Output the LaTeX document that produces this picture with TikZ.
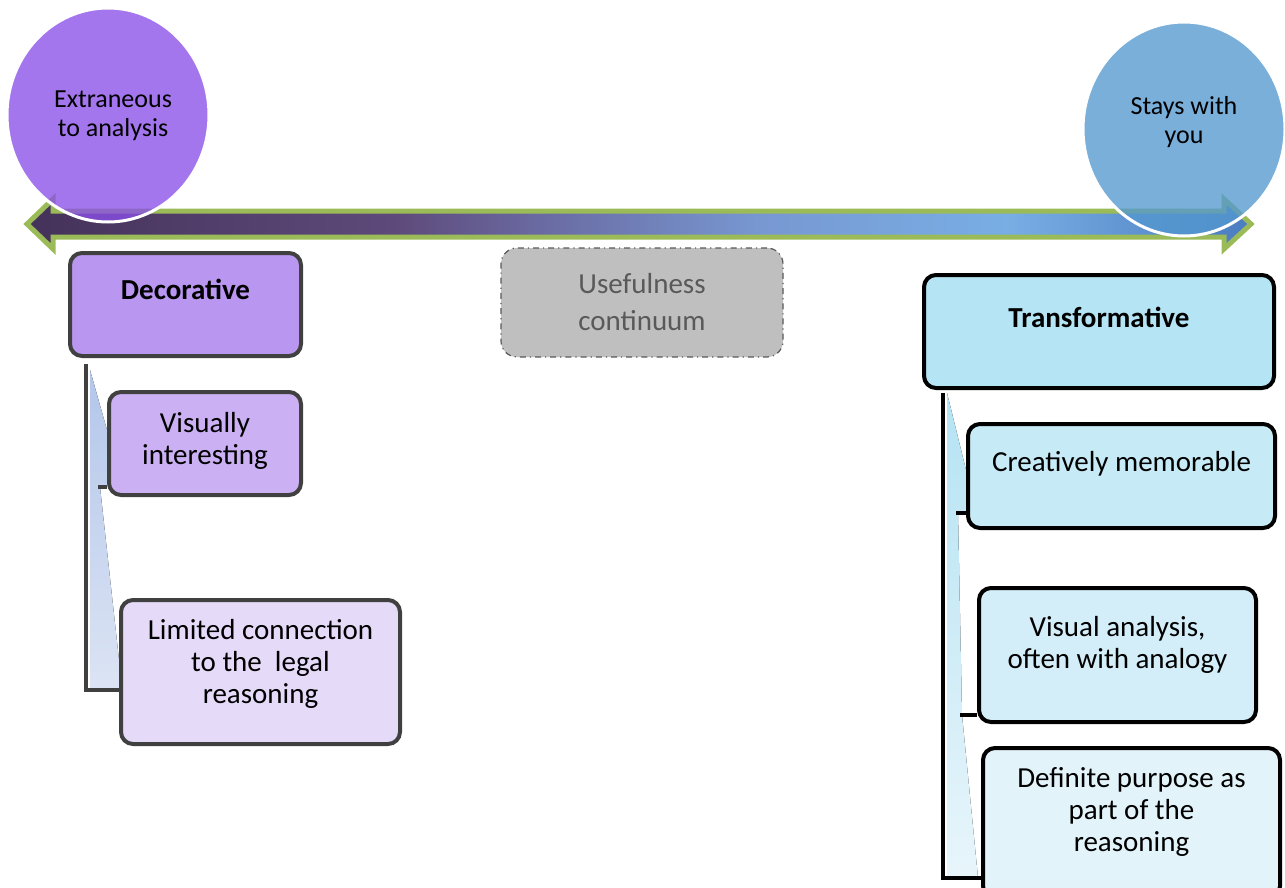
\documentclass[tikz,border=0pt]{standalone}
\usepackage{fontspec}
\setmainfont{Carlito}
\usetikzlibrary{shapes.geometric}

\definecolor{extfill}{HTML}{8A4FE8}
\definecolor{stayfill}{HTML}{5498D0}
\definecolor{arrowline}{HTML}{9BBB59}
\definecolor{arrowA}{HTML}{45325A}
\definecolor{arrowB}{HTML}{5E4A7A}
\definecolor{arrowC}{HTML}{6A6AA2}
\definecolor{arrowD}{HTML}{7898D2}
\definecolor{arrowE}{HTML}{78AEE4}
\definecolor{arrowF}{HTML}{4A7CC0}
\definecolor{decline}{HTML}{404040}
\definecolor{decfill}{HTML}{B996F0}
\definecolor{visfill}{HTML}{CBB0F3}
\definecolor{limfill}{HTML}{E6DAF9}
\definecolor{transfill}{HTML}{B5E4F4}
\definecolor{crefill}{HTML}{C6EAF6}
\definecolor{vanfill}{HTML}{D3EEF8}
\definecolor{deffill}{HTML}{E2F3FA}
\definecolor{decwedgetop}{HTML}{B3C6EA}
\definecolor{decwedgebot}{HTML}{DCE4F4}
\definecolor{transwedgetop}{HTML}{B5E3F3}
\definecolor{transwedgebot}{HTML}{E8F5FB}
\definecolor{usefill}{HTML}{BFBFBF}
\definecolor{usetext}{HTML}{595959}

\pgfdeclarehorizontalshading{continuum}{100bp}{color(0bp)=(arrowA); color(25bp)=(arrowA);
  color(40bp)=(arrowB); color(46bp)=(arrowC); color(55bp)=(arrowD); color(65bp)=(arrowE);
  color(75bp)=(arrowF); color(100bp)=(arrowF)}

\tikzset{
  boxtext/.style={font=\fontsize{14.5}{16}\selectfont, align=center, text opacity=1},
  circtext/.style={font=\fontsize{13}{14.5}\selectfont, align=center, text opacity=1},
  leftbox/.style={draw=decline, line width=2pt, rounded corners=6pt, inner sep=0pt},
  rightbox/.style={draw=black, line width=2pt, rounded corners=6pt, inner sep=0pt},
  bubble/.style={ellipse, draw=white, line width=1.5pt, fill opacity=0.78, inner sep=0pt,
    minimum width=101pt, minimum height=107pt},
  leftlink/.style={draw=decline, line width=2pt},
  rightlink/.style={draw=black, line width=2pt},
  usebox/.style={draw=usetext, line width=0.6pt, dash dot, fill=usefill, rounded corners=8pt,
    minimum width=141pt, minimum height=54.5pt, inner sep=0pt, text=usetext,
    font=\fontsize{14.5}{18.5}\selectfont, align=center}
}

\begin{document}
\begin{tikzpicture}[x=0.5pt, y=-0.5pt]
\clip (0,0) rectangle (1285,888);

% fans behind the links
\fill[top color=decwedgetop, bottom color=decwedgebot] (90,370) -- (107,430) -- (107,487) -- (100,487)
  -- (119,660) -- (119,690) -- (90,690) -- cycle;
\fill[top color=transwedgetop, bottom color=transwedgebot] (947,393) -- (966,470) -- (966,513) -- (958,513)
  -- (962,715) -- (978,878) -- (947,878) -- cycle;

% left column
\node[leftbox, fill=decfill, minimum width=115.5pt, minimum height=51.5pt,
  label={[boxtext, font=\fontsize{14.5}{16}\selectfont\bfseries, yshift=7.75pt]center:Decorative}] (dec) at (185.5,304.5) {};
\node[leftbox, fill=visfill, minimum width=96pt, minimum height=51.5pt,
  label={[boxtext, yshift=1.5pt]center:{Visually\\interesting}}] (vis) at (205,443.5) {};
\node[leftbox, fill=limfill, minimum width=139.5pt, minimum height=72pt,
  label={[boxtext, yshift=4pt]center:{Limited connection\\to the\ \ legal\\reasoning}}] (lim) at (260.5,672) {};

\draw[leftlink] ([xshift=9pt,yshift=-3pt]dec.south west) |- ([yshift=-9pt]lim.west);
\draw[leftlink] ([xshift=-4.5pt,yshift=-21.75pt]vis.west) -- ([yshift=-21.75pt]vis.west);

% right column
\node[rightbox, fill=transfill, minimum width=175pt, minimum height=56.5pt,
  label={[boxtext, font=\fontsize{14.5}{16}\selectfont\bfseries, yshift=7.25pt]center:Transformative}] (trans) at (1099,331.5) {};
\node[rightbox, fill=crefill, minimum width=153.5pt, minimum height=52pt,
  label={[boxtext, yshift=6pt]center:Creatively memorable}] (cre) at (1121.5,476) {};
\node[rightbox, fill=vanfill, minimum width=138.5pt, minimum height=67pt,
  label={[boxtext, yshift=5pt]center:{Visual analysis,\\often with analogy}}] (van) at (1117.5,655) {};
\node[rightbox, fill=deffill, minimum width=148.5pt, minimum height=75pt,
  label={[boxtext, yshift=5.5pt]center:{Definite purpose as\\part of the\\reasoning}}] (def) at (1131.5,823) {};

\draw[rightlink] ([xshift=10.5pt,yshift=-1.5pt]trans.south west) |- ([yshift=-27.5pt]def.west);
\draw[rightlink] ([xshift=-5pt,yshift=-18.5pt]cre.west) -- ([yshift=-18.5pt]cre.west);
\draw[rightlink] ([xshift=-8.5pt,yshift=-30pt]van.west) -- ([yshift=-30pt]van.west);

% the continuum arrow
\draw[arrowline, line width=2.5pt, line join=miter, shading=continuum]
  (27,224) -- (53,199) -- (53,211) -- (1224,211) -- (1224,199) -- (1251,224)
  -- (1224,249) -- (1224,237) -- (53,237) -- (53,249) -- cycle;

% the two ends
\node[bubble, fill=extfill, label={[circtext, xshift=2.5pt, yshift=-0.5pt]center:{Extraneous\\to analysis}}] (ext) at (108,115) {};
\node[bubble, fill=stayfill, label={[circtext, yshift=3.5pt]center:{Stays with\\you}}] (stay) at (1184,129) {};

\node[usebox] (use) at (642,302.5) {Usefulness\\continuum};
\end{tikzpicture}
\end{document}
